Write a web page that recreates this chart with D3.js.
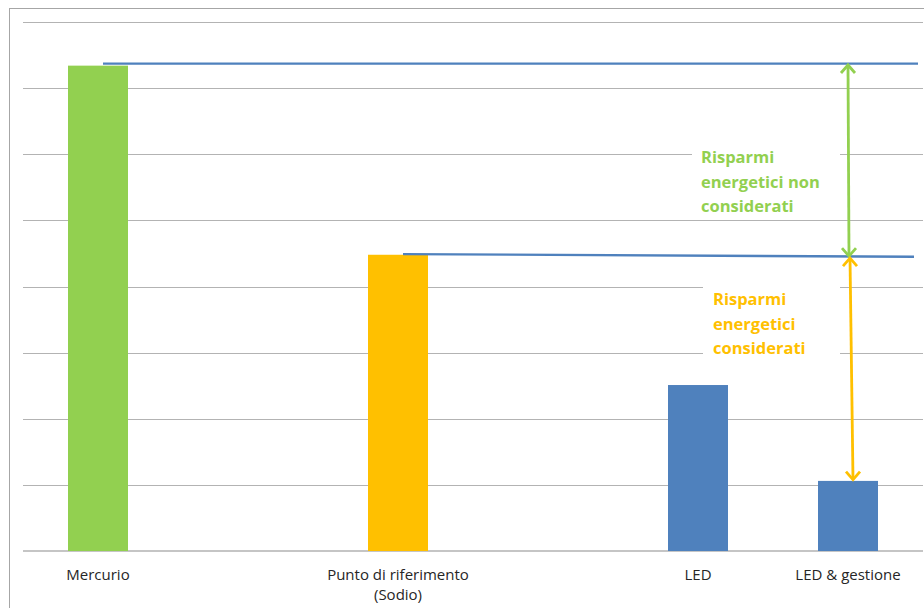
<!DOCTYPE html>
<html>
  <head>
    <meta charset="utf-8" />
    <script src="https://d3js.org/d3.v7.min.js" charset="utf-8"></script>
    <style>
      body { margin: 0; background: #fff; }
      text { font-family: "Open Sans", sans-serif; }
    </style>
  </head>
  <body>
    <svg></svg>
    <script>
      const categories = ["Mercurio", "gap1", "Punto di riferimento|(Sodio)", "gap2", "LED", "LED & gestione"];
      const values = [7.34, null, 4.48, null, 2.51, 1.06];
      const barColors = ["#92D050", null, "#FFC000", null, "#4F81BD", "#4F81BD"];
      const yTicks = [0, 1, 2, 3, 4, 5, 6, 7, 8];

      // reference lines: [start category, value at start, value at end]
      const refLines = [
        { from: 0, y1: 7.37, y2: 7.37, end: 918 },
        { from: 2, y1: 4.49, y2: 4.45, end: 914 }
      ];
      // arrows: value ranges
      const arrows = [
        { top: 7.35, bottom: 4.46, dx0: 0, dx1: 1, color: "#92D050" },
        { top: 4.43, bottom: 1.08, dx0: 2, dx1: 5, color: "#FFC000" }
      ];
      const notes = [
        { lines: ["Risparmi", "energetici non", "considerati"], x: 701, y: 163, color: "#92D050", box: [692, 142, 148, 76] },
        { lines: ["Risparmi", "energetici", "considerati"], x: 713, y: 305, color: "#FFC000", box: [703, 284, 137, 76] }
      ];

      const W = 924, H = 608;
      const svg = d3.select("svg").attr("width", W).attr("height", H);

      const x = d3.scaleBand().domain(categories).range([23, 923]);
      const y = d3.scaleLinear().domain([0, 8]).range([551, 22]);
      const barW = x.bandwidth() * 0.4;

      // outer frame
      svg.append("rect")
        .attr("x", 9.5).attr("y", 8.5)
        .attr("width", 930).attr("height", 620)
        .attr("fill", "none").attr("stroke", "#a6a6a6");

      // gridlines
      svg.append("g")
        .selectAll("line")
        .data(yTicks.slice(1))
        .join("line")
        .attr("x1", 23).attr("x2", 923)
        .attr("y1", d => Math.round(y(d)) + 0.5)
        .attr("y2", d => Math.round(y(d)) + 0.5)
        .attr("stroke", "#b3b3b3")
        .attr("stroke-width", 1.2);

      // baseline
      svg.append("line")
        .attr("x1", 23).attr("x2", 923)
        .attr("y1", y(0)).attr("y2", y(0))
        .attr("stroke", "#8c8c8c")
        .attr("stroke-width", 1.2);

      // bars
      svg.append("g")
        .selectAll("rect")
        .data(categories.map((c, i) => ({ c, v: values[i], col: barColors[i] })).filter(d => d.v != null))
        .join("rect")
        .attr("x", d => x(d.c) + x.bandwidth() / 2 - barW / 2)
        .attr("y", d => y(d.v))
        .attr("width", barW)
        .attr("height", d => y(0) - y(d.v))
        .attr("fill", d => d.col);

      // blue reference lines
      refLines.forEach(r => {
        svg.append("line")
          .attr("x1", x(categories[r.from]) + x.bandwidth() / 2 + 5)
          .attr("x2", r.end)
          .attr("y1", y(r.y1)).attr("y2", y(r.y2))
          .attr("stroke", "#4F81BD")
          .attr("stroke-width", 2.4);
      });

      // white boxes + notes
      notes.forEach(n => {
        svg.append("rect")
          .attr("x", n.box[0]).attr("y", n.box[1])
          .attr("width", n.box[2]).attr("height", n.box[3])
          .attr("fill", "#fff");
        const t = svg.append("text")
          .attr("x", n.x).attr("y", n.y)
          .attr("fill", n.color)
          .attr("font-weight", "bold")
          .attr("font-size", 16.5);
        n.lines.forEach((l, i) => {
          t.append("tspan").attr("x", n.x).attr("dy", i === 0 ? 0 : 24.5).text(l);
        });
      });

      // double-headed arrows
      const cx = x("LED & gestione") + x.bandwidth() / 2;
      arrows.forEach(a => {
        const x0 = cx + a.dx0, x1 = cx + a.dx1;
        const y0 = y(a.top), y1 = y(a.bottom);
        svg.append("line")
          .attr("x1", x0).attr("y1", y0)
          .attr("x2", x1).attr("y2", y1)
          .attr("stroke", a.color).attr("stroke-width", 2.8);
        const h = 7;
        svg.append("path")
          .attr("d", `M${x0 - h},${y0 + h + 1}L${x0},${y0}L${x0 + h},${y0 + h + 1}`)
          .attr("fill", "none").attr("stroke", a.color).attr("stroke-width", 2.8)
          .attr("stroke-linejoin", "miter");
        svg.append("path")
          .attr("d", `M${x1 - h},${y1 - h - 1}L${x1},${y1}L${x1 + h},${y1 - h - 1}`)
          .attr("fill", "none").attr("stroke", a.color).attr("stroke-width", 2.8)
          .attr("stroke-linejoin", "miter");
      });

      // category labels
      const labels = svg.append("g")
        .selectAll("text")
        .data(categories.filter(c => !c.startsWith("gap")))
        .join("text")
        .attr("x", d => x(d) + x.bandwidth() / 2)
        .attr("y", 580)
        .attr("text-anchor", "middle")
        .attr("font-size", 15)
        .attr("fill", "#262626");
      labels.each(function (d) {
        const parts = d.split("|");
        parts.forEach((p, i) => {
          d3.select(this).append("tspan")
            .attr("x", x(d) + x.bandwidth() / 2)
            .attr("dy", i === 0 ? 0 : 20)
            .text(p);
        });
      });
    </script>
  </body>
</html>
